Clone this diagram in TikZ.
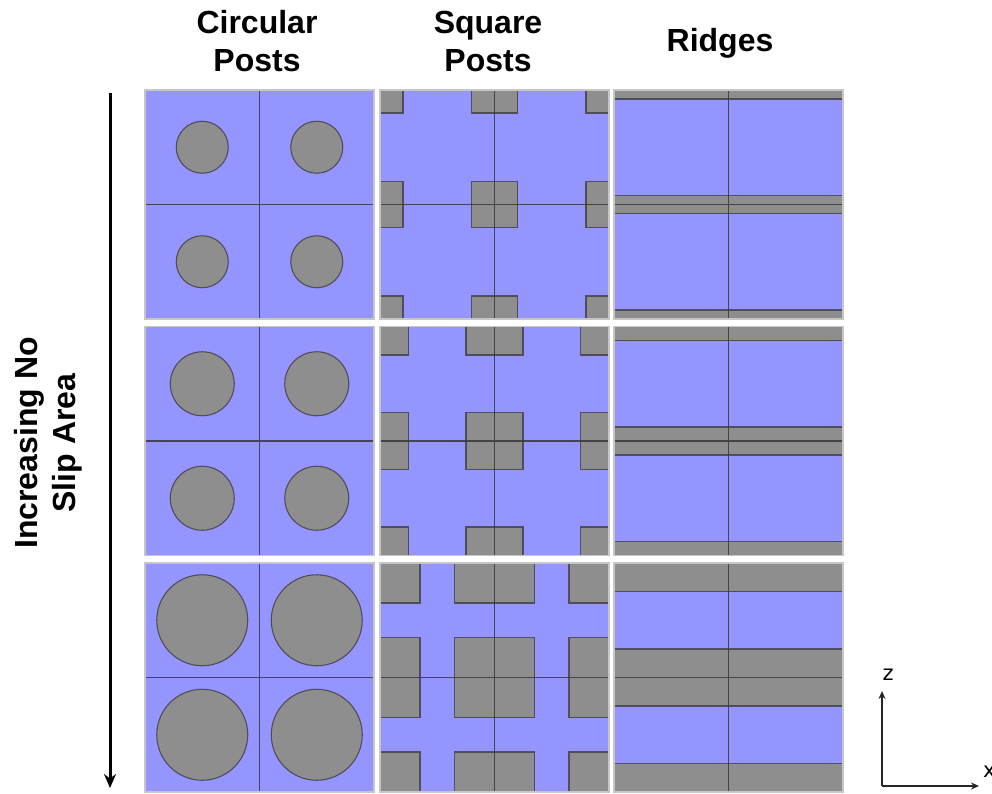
\documentclass[tikz,border=0pt]{standalone}
\usepackage{fontspec}
\setmainfont{Liberation Sans}
\newfontfamily\axisfont{DejaVu Sans}
\usetikzlibrary{arrows.meta}

\definecolor{slipblue}{HTML}{9595FF}
\definecolor{postgrey}{HTML}{8E8E8E}
\definecolor{edgegrey}{HTML}{383838}
\definecolor{framegrey}{HTML}{C6C6C6}

\tikzset{
  surface/.style={fill=slipblue},
  post/.style={fill=postgrey, draw=edgegrey, draw opacity=0.75, line width=1.1pt},
  cellline/.style={draw=edgegrey, draw opacity=0.85, line width=1.2pt},
  frame/.style={draw=framegrey, line width=1.4pt},
  heading/.style={font=\bfseries\fontsize{32}{38}\selectfont, align=center, inner sep=0pt},
  bigarrow/.style={line width=3pt, -{Stealth[length=14pt,width=12pt]}},
  axis/.style={draw=black!85, line width=1.6pt, -{Stealth[length=8pt,width=7pt]}},
  axislabel/.style={font=\axisfont\fontsize{21}{24}\selectfont, inner sep=0pt},
}

\begin{document}
\begin{tikzpicture}[x=1pt,y=-1pt]
\useasboundingbox (0,0) rectangle (992,793);

% ---- column headings ----
\node[heading] (hcirc) at (257,41) {Circular\\Posts};
\node[heading] (hsq) at (488,41) {Square\\Posts};
\node[heading] (hridge) at (720,43) {Ridges};

% ---- side label and trend arrow ----
\node[heading, rotate=90] (trend) at (48,443) {Increasing No\\Slip Area};
\coordinate (atop) at (110,93);
\coordinate (abot) at (110,788);
\draw[bigarrow] (atop) -- (abot);

% ---- circular posts (cell = 114.5, panel = 229) ----
\foreach \Y/\r in {90/26, 326.5/32, 563/45.5}{
  \fill[surface] (145,\Y) rectangle ++(229,229);
  \foreach \i in {0,1}{
    \foreach \j in {0,1}{
      \draw[post] (145+57.25+\i*114.5, \Y+57.25+\j*114.5) circle[radius=\r pt];
    }
  }
  \draw[cellline] (145+114.5,\Y) -- ++(0,229) (145,\Y+114.5) -- ++(229,0);
  \draw[frame] (145,\Y) rectangle ++(229,229);
}

% ---- square posts, centred on the cell corners ----
\foreach \Y/\p in {90/46, 326.5/57, 563/80}{
  \fill[surface] (380,\Y) rectangle ++(229,229);
  \begin{scope}
    \clip (380,\Y) rectangle ++(229,229);
    \foreach \i in {0,1,2}{
      \foreach \j in {0,1,2}{
        \draw[post] (380+\i*114.5-\p/2, \Y+\j*114.5-\p/2) rectangle ++(\p,\p);
      }
    }
  \end{scope}
  \draw[cellline] (380+114.5,\Y) -- ++(0,229) (380,\Y+114.5) -- ++(229,0);
  \draw[frame] (380,\Y) rectangle ++(229,229);
}

% ---- ridges along x, centred on the cell edges ----
\foreach \Y/\w in {90/9, 326.5/14, 563/28.5}{
  \fill[surface] (614,\Y) rectangle ++(229,229);
  \begin{scope}
    \clip (614,\Y) rectangle ++(229,229);
    \foreach \j in {0,1,2}{
      \draw[post] (612, \Y+\j*114.5-\w) rectangle (845, \Y+\j*114.5+\w);
    }
  \end{scope}
  \draw[cellline] (614+114.5,\Y) -- ++(0,229) (614,\Y+114.5) -- ++(229,0);
  \draw[frame] (614,\Y) rectangle ++(229,229);
}

% ---- axes ----
\coordinate (orig) at (882,786);
\coordinate (zend) at (882,691);
\coordinate (xend) at (979,786);
\draw[axis] (orig) -- (zend);
\draw[axis] (orig) -- (xend);
\node[axislabel] (zlab) at (888,675) {z};
\node[axislabel, anchor=west] (xlab) at (983,772) {x};
\end{tikzpicture}
\end{document}
